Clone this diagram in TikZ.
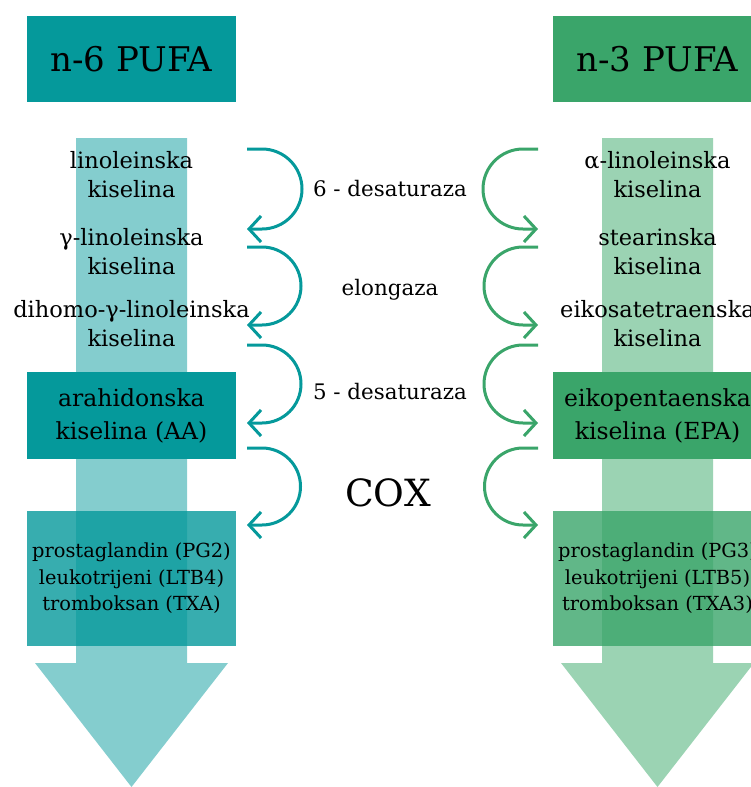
\documentclass[tikz,border=0pt]{standalone}
\usepackage{fontspec}
\setmainfont{DejaVu Serif}
\usetikzlibrary{arrows.meta}
\definecolor{sixdark}{HTML}{05999B}
\definecolor{sixlight}{HTML}{84CDCE}
\definecolor{threedark}{HTML}{3AA56A}
\definecolor{threelight}{HTML}{9BD3B3}

\begin{document}
\begin{tikzpicture}
  [x=1pt,y=-1pt,align=center,
   titlebox/.style={minimum width=209pt,minimum height=86pt,inner sep=0pt,font=\fontsize{34}{40}\selectfont},
   keybox/.style={minimum width=209pt,minimum height=87pt,inner sep=0pt,font=\fontsize{23.5}{33}\selectfont},
   prodbox/.style={minimum width=209pt,minimum height=135pt,inner sep=0pt,fill opacity=0.8,text opacity=1,font=\fontsize{19.4}{26.5}\selectfont},
   acid/.style={font=\fontsize{22.5}{29}\selectfont},
   enzyme/.style={font=\fontsize{21.4}{26}\selectfont},
   sixconv/.style={sixdark,line width=3pt,-{Straight Barb[length=12pt,width=26pt]}},
   threeconv/.style={threedark,line width=3pt,-{Straight Barb[length=12pt,width=26pt]}}]

  \clip (0,0) rectangle (751,787);

  % big arrows behind
  \fill[sixlight] (76,138) -- (187,138) -- (187,663) -- (228,663) -- (131.5,787) -- (35,663) -- (76,663) -- cycle;
  \fill[threelight] (602,138) -- (713,138) -- (713,663) -- (754,663) -- (657.5,787) -- (561,663) -- (602,663) -- cycle;

  \node[titlebox,fill=sixdark] (n6) at (131.5,59) {n-6 PUFA};
  \node[titlebox,fill=threedark] (n3) at (657.5,59) {n-3 PUFA};

  \node[acid] (la) at (131.5,175) {linoleinska\\kiselina};
  \node[acid] (gla) at (131.5,252) {γ-linoleinska\\kiselina};
  \node[acid] (dgla) at (131.5,324) {dihomo-γ-linoleinska\\kiselina};
  \node[keybox,fill=sixdark] (aa) at (131.5,415.5) {arahidonska\\kiselina (AA)};
  \node[prodbox,fill=sixdark] (eic6) at (131.5,578.5) {prostaglandin (PG2)\\leukotrijeni (LTB4)\\tromboksan (TXA)};

  \node[acid] (ala) at (657.5,175) {α-linoleinska\\kiselina};
  \node[acid] (sda) at (657.5,252) {stearinska\\kiselina};
  \node[acid] (eta) at (657.5,324) {eikosatetraenska\\kiselina};
  \node[keybox,fill=threedark] (epa) at (657.5,415.5) {eikopentaenska\\kiselina (EPA)};
  \node[prodbox,fill=threedark] (eic3) at (657.5,578.5) {prostaglandin (PG3)\\leukotrijeni (LTB5)\\tromboksan (TXA3)};

  \node[enzyme] (d6) at (390,189) {6 - desaturaza};
  \node[enzyme] (elo) at (390,290) {elongaza};
  \node[enzyme] (d5) at (390,392) {5 - desaturaza};
  \node[font=\fontsize{37.5}{44}\selectfont] (cox) at (388,493) {COX};

  \coordinate (l1) at (247,149);
  \coordinate (l2) at (247,229);
  \coordinate (l3) at (247,247);
  \coordinate (l4) at (247,325);
  \coordinate (l5) at (247,345);
  \coordinate (l6) at (247,423);
  \coordinate (l7) at (247,448);
  \coordinate (l8) at (247,525);
  \coordinate (r1) at (538,149);
  \coordinate (r2) at (538,229);
  \coordinate (r3) at (538,247);
  \coordinate (r4) at (538,325);
  \coordinate (r5) at (538,345);
  \coordinate (r6) at (538,423);
  \coordinate (r7) at (538,448);
  \coordinate (r8) at (538,525);

  \draw[sixconv] (l1) -- ++(15,0) arc[start angle=90,end angle=-90,radius=40pt] -- (l2);
  \draw[sixconv] (l3) -- ++(15,0) arc[start angle=90,end angle=-90,radius=39pt] -- (l4);
  \draw[sixconv] (l5) -- ++(15,0) arc[start angle=90,end angle=-90,radius=39pt] -- (l6);
  \draw[sixconv] (l7) -- ++(15,0) arc[start angle=90,end angle=-90,radius=38.5pt] -- (l8);

  \draw[threeconv] (r1) -- ++(-15,0) arc[start angle=90,end angle=270,radius=40pt] -- (r2);
  \draw[threeconv] (r3) -- ++(-15,0) arc[start angle=90,end angle=270,radius=39pt] -- (r4);
  \draw[threeconv] (r5) -- ++(-15,0) arc[start angle=90,end angle=270,radius=39pt] -- (r6);
  \draw[threeconv] (r7) -- ++(-15,0) arc[start angle=90,end angle=270,radius=38.5pt] -- (r8);
\end{tikzpicture}
\end{document}
